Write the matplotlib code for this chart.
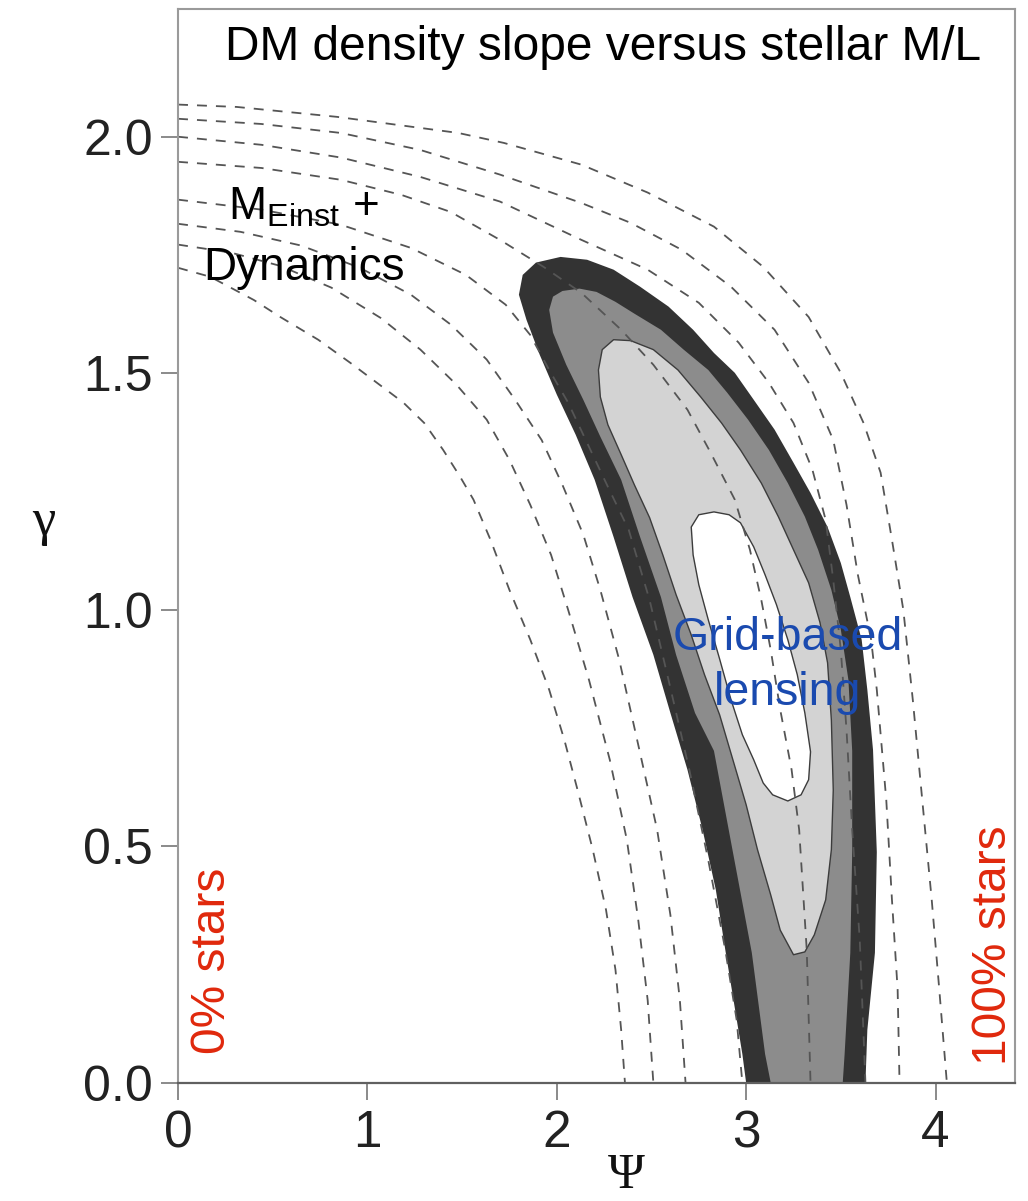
import numpy as np
import matplotlib.pyplot as plt
from matplotlib.patches import Polygon

plt.rcParams['font.family'] = ['Liberation Sans', 'DejaVu Sans']
plt.rcParams['mathtext.fontset'] = 'custom'
plt.rcParams['mathtext.rm'] = 'Liberation Sans'

# ------------------------------------------------------------------
# Curvas de masa de Einstein constante (M_Einst + dinamica)
# ------------------------------------------------------------------
mein_psi_1 = [0.00, 0.17, 0.40, 0.54, 0.74, 0.91, 1.05, 1.19, 1.30, 1.40, 1.49, 1.56,
              1.65, 1.75, 1.86, 1.96, 2.04, 2.11, 2.19, 2.26, 2.31, 2.34, 2.36]
mein_gam_1 = [1.723, 1.704, 1.655, 1.619, 1.571, 1.522, 1.480, 1.438, 1.395, 1.338, 1.281, 1.233,
              1.148, 1.042, 0.937, 0.831, 0.725, 0.619, 0.493, 0.366, 0.239, 0.112, 0.0]

mein_psi_2 = [0.00, 0.28, 0.54, 0.81, 1.07, 1.28, 1.47, 1.63, 1.75, 1.86, 1.97, 2.06,
              2.17, 2.28, 2.37, 2.43, 2.48, 2.51]
mein_gam_2 = [1.772, 1.755, 1.727, 1.681, 1.617, 1.550, 1.476, 1.402, 1.317, 1.222, 1.116, 1.000,
              0.852, 0.683, 0.514, 0.345, 0.175, 0.0]

mein_psi_3 = [0.00, 0.33, 0.65, 0.96, 1.23, 1.44, 1.63, 1.78, 1.92, 2.03, 2.14, 2.23,
              2.33, 2.43, 2.53, 2.60, 2.65, 2.68]
mein_gam_3 = [1.816, 1.799, 1.770, 1.723, 1.666, 1.603, 1.529, 1.444, 1.359, 1.264, 1.159, 1.042,
              0.894, 0.715, 0.535, 0.355, 0.175, 0.0]

mein_psi_4 = [0.00, 0.44, 0.86, 1.23, 1.52, 1.73, 1.86, 1.96, 2.06, 2.16, 2.27, 2.38,
              2.49, 2.59, 2.70, 2.80, 2.89, 2.95, 2.98]
mein_gam_4 = [1.867, 1.846, 1.814, 1.765, 1.708, 1.645, 1.581, 1.507, 1.438, 1.353, 1.260, 1.169,
              1.021, 0.852, 0.662, 0.471, 0.281, 0.133, 0.0]

mein_psi_5 = [0.00, 0.44, 0.86, 1.18, 1.44, 1.70, 1.93, 2.13, 2.34, 2.51, 2.69, 2.81,
              2.94, 3.02, 3.08, 3.13, 3.18, 3.24, 3.28, 3.32, 3.34]
mein_gam_5 = [1.947, 1.934, 1.909, 1.877, 1.841, 1.782, 1.725, 1.670, 1.592, 1.518, 1.423, 1.334,
              1.233, 1.127, 1.021, 0.915, 0.789, 0.662, 0.535, 0.281, 0.0]

mein_psi_6 = [0.00, 0.44, 0.86, 1.28, 1.70, 2.13, 2.48, 2.75, 2.96, 3.12, 3.25, 3.35,
              3.42, 3.46, 3.50, 3.53, 3.56, 3.60, 3.63]
mein_gam_6 = [2.000, 1.983, 1.956, 1.915, 1.863, 1.782, 1.719, 1.649, 1.565, 1.480, 1.395, 1.296,
              1.190, 1.063, 0.915, 0.746, 0.535, 0.302, 0.0]

mein_psi_7 = [0.00, 0.44, 0.86, 1.28, 1.70, 2.13, 2.39, 2.66, 2.92, 3.15, 3.33, 3.46,
              3.53, 3.59, 3.66, 3.69, 3.74, 3.77, 3.80, 3.81]
mein_gam_7 = [2.038, 2.027, 2.008, 1.972, 1.920, 1.860, 1.818, 1.761, 1.683, 1.592, 1.480, 1.359,
              1.222, 1.074, 0.937, 0.831, 0.598, 0.387, 0.197, 0.0]

mein_psi_8 = [0.00, 0.31, 0.84, 1.48, 1.72, 2.13, 2.48, 2.83, 3.09, 3.33, 3.50, 3.62,
              3.71, 3.77, 3.83, 3.88, 3.93, 3.98, 4.02, 4.06]
mein_gam_8 = [2.068, 2.063, 2.042, 2.008, 1.987, 1.941, 1.882, 1.810, 1.725, 1.619, 1.501, 1.395,
              1.290, 1.148, 1.000, 0.810, 0.598, 0.387, 0.197, 0.0]

# ------------------------------------------------------------------
# Contornos de confianza del lensing por malla (de afuera hacia adentro)
# ------------------------------------------------------------------
outer_psi = [3.00, 2.98, 2.89, 2.84, 2.77, 2.69, 2.60, 2.51, 2.40, 2.30, 2.20, 2.10, 2.00,
             1.91, 1.84, 1.80, 1.82, 1.89, 2.02, 2.16, 2.30, 2.44, 2.59, 2.72, 2.83, 2.94,
             3.04, 3.15, 3.25, 3.34, 3.43, 3.50, 3.55, 3.61, 3.64, 3.67, 3.69, 3.68, 3.64, 3.63]
outer_gam = [0.0, 0.061, 0.281, 0.408, 0.535, 0.662, 0.782, 0.905, 1.027, 1.154, 1.275, 1.370,
             1.455, 1.539, 1.613, 1.666, 1.708, 1.734, 1.746, 1.740, 1.719, 1.683, 1.641, 1.592,
             1.543, 1.501, 1.444, 1.381, 1.311, 1.247, 1.175, 1.099, 1.027, 0.937, 0.831, 0.704,
             0.488, 0.275, 0.112, 0.0]

mid_psi = [3.13, 3.10, 3.03, 2.93, 2.83, 2.73, 2.63, 2.55, 2.44, 2.34, 2.23, 2.14, 2.05,
           1.98, 1.96, 1.98, 2.03, 2.12, 2.21, 2.31, 2.41, 2.55, 2.67, 2.80, 2.90, 3.01,
           3.12, 3.22, 3.31, 3.38, 3.45, 3.50, 3.54, 3.56, 3.56, 3.55, 3.52, 3.51]
mid_gam = [0.0, 0.061, 0.275, 0.488, 0.702, 0.782, 0.905, 1.027, 1.154, 1.275, 1.366, 1.444,
           1.518, 1.586, 1.634, 1.662, 1.674, 1.679, 1.672, 1.651, 1.626, 1.592, 1.550, 1.507,
           1.459, 1.402, 1.338, 1.268, 1.197, 1.127, 1.042, 0.958, 0.852, 0.702, 0.488, 0.275,
           0.061, 0.0]

light_psi = [2.30, 2.24, 2.22, 2.23, 2.27, 2.34, 2.41, 2.49, 2.56, 2.63, 2.71, 2.78, 2.86,
             2.93, 3.00, 3.06, 3.13, 3.18, 3.25, 3.31, 3.36, 3.42, 3.45, 3.46, 3.45, 3.43,
             3.39, 3.33, 3.25, 3.17, 3.08, 2.97, 2.87, 2.76, 2.64, 2.51, 2.39]
light_gam = [1.571, 1.550, 1.507, 1.450, 1.391, 1.328, 1.264, 1.195, 1.116, 1.032, 0.947, 0.863,
             0.778, 0.683, 0.588, 0.493, 0.397, 0.323, 0.271, 0.277, 0.313, 0.387, 0.493, 0.619,
             0.767, 0.888, 0.973, 1.057, 1.127, 1.197, 1.268, 1.338, 1.395, 1.450, 1.507, 1.550,
             1.569]

core_psi = [2.71, 2.75, 2.83, 2.91, 2.97, 3.04, 3.10, 3.16, 3.22, 3.27, 3.31, 3.34,
            3.33, 3.29, 3.22, 3.14, 3.09, 3.04, 2.98, 2.92, 2.86, 2.80, 2.75, 2.72]
core_gam = [1.175, 1.201, 1.207, 1.201, 1.184, 1.133, 1.074, 1.011, 0.937, 0.863, 0.782, 0.700,
            0.641, 0.609, 0.596, 0.609, 0.634, 0.683, 0.736, 0.810, 0.896, 0.979, 1.053, 1.116]

x_ticks = [0, 1, 2, 3, 4]
y_ticks = [0.0, 0.5, 1.0, 1.5, 2.0]

# ------------------------------------------------------------------
fig = plt.figure(figsize=(10.28, 12.01), dpi=100, facecolor="white")
ax = fig.add_axes([0.1732, 0.0983, 0.8142, 0.8942])

# Regiones rellenas
fills = [(outer_psi, outer_gam, "#333333", "none"),
         (mid_psi, mid_gam, "#8c8c8c", "none"),
         (light_psi, light_gam, "#d3d3d3", "#3c3c3c"),
         (core_psi, core_gam, "#ffffff", "#3c3c3c")]
for px, gy, fc, ec in fills:
    poly = Polygon(np.column_stack([px, gy]), closed=True, facecolor=fc,
                   edgecolor=ec, lw=1.0, joinstyle="round", zorder=1)
    ax.add_patch(poly)

# Curvas punteadas
curves = [(mein_psi_1, mein_gam_1), (mein_psi_2, mein_gam_2), (mein_psi_3, mein_gam_3),
          (mein_psi_4, mein_gam_4), (mein_psi_5, mein_gam_5), (mein_psi_6, mein_gam_6),
          (mein_psi_7, mein_gam_7), (mein_psi_8, mein_gam_8)]
for px, gy in curves:
    ax.plot(px, gy, color="#555555", lw=1.3, linestyle=(0, (5.5, 5)), zorder=2)

ax.set_xlim(0, 4.42)
ax.set_ylim(0, 2.27)
ax.set_xticks(x_ticks)
ax.set_yticks(y_ticks)
ax.set_xticklabels([str(v) for v in x_ticks])
ax.set_yticklabels(["%.1f" % v for v in y_ticks])

for side in ["left", "top", "right"]:
    ax.spines[side].set_color("#9a9a9a")
    ax.spines[side].set_linewidth(1.5)
ax.spines["bottom"].set_color("#606060")
ax.spines["bottom"].set_linewidth(1.6)

ax.tick_params(axis="both", direction="out", length=12, width=1.4, color="#8a8a8a",
               labelcolor="#222222")
ax.tick_params(axis="y", labelsize=36, pad=6)
ax.tick_params(axis="x", labelsize=37, pad=7)

# Textos
ax.text(0.25, 2.163, "DM density slope versus stellar M/L", fontsize=34.5,
        ha="left", va="baseline", color="black", zorder=3)
ax.text(0.663, 1.825, r"M$_{\mathregular{Einst}}$ +", fontsize=33,
        ha="center", va="baseline", color="black", zorder=3)
ax.text(0.663, 1.698, "Dynamics", fontsize=33,
        ha="center", va="baseline", color="black", zorder=3)
ax.text(3.22, 0.915, "Grid-based", fontsize=33.5,
        ha="center", va="baseline", color="#1a4aaf", zorder=3)
ax.text(3.22, 0.799, "lensing", fontsize=33.5,
        ha="center", va="baseline", color="#1a4aaf", zorder=3)
ax.text(0.18, 0.258, "0% stars", fontsize=34.5, rotation=90,
        ha="center", va="center", color="#e0280c", zorder=3)
ax.text(4.305, 0.292, "100% stars", fontsize=34.5, rotation=90,
        ha="center", va="center", color="#e0280c", zorder=3)

ax.text(-0.160, 0.522, "γ", transform=ax.transAxes, fontsize=38,
        family="Liberation Serif", ha="center", va="center", color="#111111")
ax.text(0.536, -0.086, "Ψ", transform=ax.transAxes, fontsize=36,
        family="Liberation Serif", ha="center", va="center", color="#111111")

fig.savefig("out.png", dpi=100, facecolor="white")
